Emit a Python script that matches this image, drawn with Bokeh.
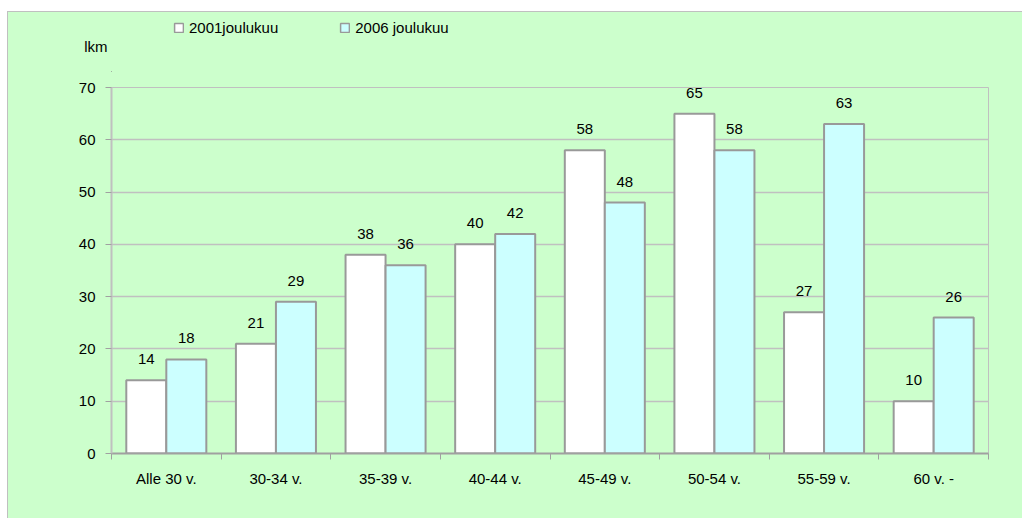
from bokeh.plotting import figure
from bokeh.models import (ColumnDataSource, FixedTicker, LabelSet, Legend,
                          LegendItem, Range1d)
from bokeh.layouts import column
from bokeh.core.properties import value
from bokeh.embed import file_html
from bokeh.resources import INLINE

categories = ["Alle 30 v.", "30-34 v.", "35-39 v.", "40-44 v.", "45-49 v.",
              "50-54 v.", "55-59 v.", "60 v. -"]
values_2001 = [14, 21, 38, 40, 58, 65, 27, 10]
values_2006 = [18, 29, 36, 42, 48, 58, 63, 26]
series_names = ["2001joulukuu", "2006 joulukuu"]
y_ticks = [0, 10, 20, 30, 40, 50, 60, 70]
y_axis_title = "lkm"

GREEN = "#CCFFCC"
CYAN = "#CCFFFF"
EDGE = "#999999"
FONT = "Liberation Sans"
FILLS = ["white", CYAN]

n = len(categories)
centers = [i + 0.5 for i in range(n)]
bw = 0.365
x1 = [c - bw / 2 for c in centers]
x2 = [c + bw / 2 for c in centers]

src1 = ColumnDataSource(dict(x=x1, top=values_2001, lab=[str(v) for v in values_2001]))
src2 = ColumnDataSource(dict(x=x2, top=values_2006, lab=[str(v) for v in values_2006]))

# ---------- header (legend + y-axis title) ----------
HEAD_H = 72
HEAD_TOP = 20
head = figure(width=1022, height=HEAD_H, output_backend="svg", toolbar_location=None,
              x_axis_location=None, y_axis_location="left",
              x_range=Range1d(1000, 1100), y_range=Range1d(1000, 1001),
              min_border_left=111, min_border_right=34,
              min_border_top=HEAD_TOP, min_border_bottom=0)
head.grid.visible = False
head.outline_line_color = None
head.border_fill_color = None
head.background_fill_color = None
head.yaxis.ticker = FixedTicker(ticks=[])
head.yaxis.axis_line_color = None
head.yaxis.major_tick_line_color = None
head.yaxis.minor_tick_line_color = None
head.yaxis.major_tick_out = 0
head.yaxis.minor_tick_out = 0
head.yaxis.major_label_standoff = 0
head.yaxis.axis_label = y_axis_title
head.yaxis.axis_label_orientation = "horizontal"
head.yaxis.axis_label_standoff = 4
head.yaxis.axis_label_text_font = FONT
head.yaxis.axis_label_text_font_size = "15px"
head.yaxis.axis_label_text_font_style = "normal"
head.yaxis.axis_label_text_color = "black"

# legend swatches reuse the series sources (their bars fall outside this header's ranges)
leg_items = []
for name, fc, s in zip(series_names, FILLS, (src1, src2)):
    rr = head.vbar(x="x", top="top", width=bw, source=s, fill_color=fc,
                   line_color=EDGE, line_width=1.5)
    leg_items.append(LegendItem(label=name, renderers=[rr]))

leg = Legend(items=leg_items, location=(62, HEAD_H - 35.5), orientation="horizontal",
             background_fill_alpha=0, border_line_color=None,
             padding=0, margin=0, spacing=61, glyph_width=11, glyph_height=11,
             label_height=14, label_standoff=5, label_text_color="black",
             label_text_font=FONT, label_text_font_size="15px")
head.add_layout(leg)

# ---------- main chart ----------
p = figure(width=1022, height=518 - HEAD_H, output_backend="svg", toolbar_location=None,
           x_range=(0, n), y_range=(0, 70),
           min_border_left=111, min_border_top=87 - HEAD_H, min_border_right=34,
           min_border_bottom=65)
p.border_fill_color = None
p.background_fill_color = None
p.outline_line_color = "#c0c0c0"
p.outline_line_width = 1

p.vbar(x="x", top="top", width=bw, bottom=0, source=src1,
       fill_color=FILLS[0], line_color=EDGE, line_width=2)
p.vbar(x="x", top="top", width=bw, bottom=0, source=src2,
       fill_color=FILLS[1], line_color=EDGE, line_width=2)

for s in (src1, src2):
    p.add_layout(LabelSet(x="x", y="top", text="lab", source=s, y_offset=16,
                          text_align="center", text_baseline="bottom",
                          text_font=value(FONT), text_font_size="15px",
                          text_color="black"))

p.xgrid.grid_line_color = None
p.ygrid.grid_line_color = "#c0c0c0"
p.ygrid.grid_line_width = 1.5
p.ygrid.ticker = FixedTicker(ticks=y_ticks)

p.yaxis.ticker = FixedTicker(ticks=y_ticks)
p.yaxis.axis_line_color = "#c0c0c0"
p.yaxis.axis_line_width = 2
p.yaxis.major_tick_line_color = "#a0a0a0"
p.yaxis.major_tick_out = 6
p.yaxis.major_tick_in = 0
p.yaxis.minor_tick_line_color = None
p.yaxis.major_label_standoff = 10
p.yaxis.major_label_text_font = FONT
p.yaxis.major_label_text_font_size = "15px"
p.yaxis.major_label_text_color = "black"

p.xaxis.ticker = FixedTicker(ticks=centers, minor_ticks=list(range(n + 1)))
p.xaxis.major_label_overrides = {c: cat for c, cat in zip(centers, categories)}
p.xaxis.major_tick_line_color = None
p.xaxis.major_tick_out = 0
p.xaxis.major_tick_in = 0
p.xaxis.minor_tick_line_color = "#a0a0a0"
p.xaxis.minor_tick_out = 6
p.xaxis.minor_tick_in = 0
p.xaxis.axis_line_color = "#a0a0a0"
p.xaxis.axis_line_width = 2
p.xaxis.major_label_standoff = 10
p.xaxis.major_label_text_font = FONT
p.xaxis.major_label_text_font_size = "15px"
p.xaxis.major_label_text_color = "black"

layout = column(head, p, spacing=0)
layout.styles = {
    "background-color": "white",
    "background-image": "linear-gradient(#CCFFCC,#CCFFCC), linear-gradient(#c0c0c0,#c0c0c0)",
    "background-position": "8px 12px, 7px 11px",
    "background-size": "1014px 506px, 1015px 507px",
    "background-repeat": "no-repeat",
}

open("out.html", "w").write(file_html(layout, INLINE))
